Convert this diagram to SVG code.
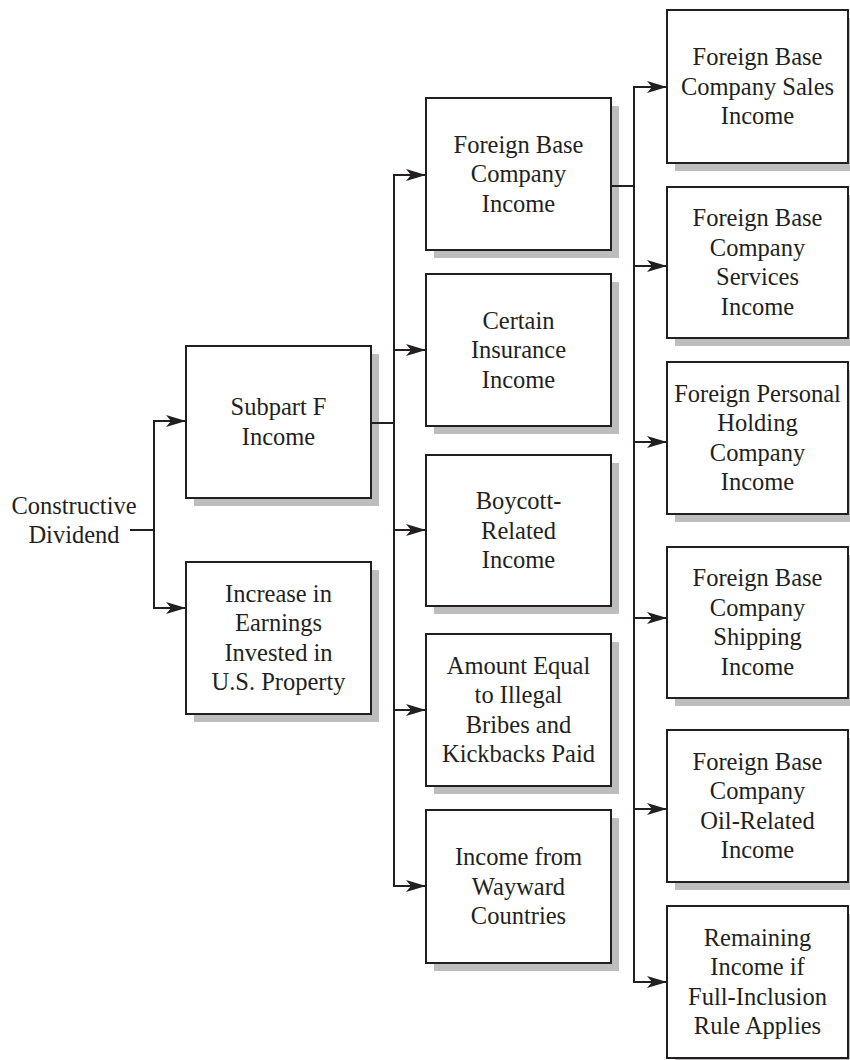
<svg xmlns="http://www.w3.org/2000/svg" width="850" height="1060" viewBox="0 0 850 1060">
  <style>
    .shadow { fill: #bdbdbd; }
    .box { fill: #ffffff; stroke: #231f20; stroke-width: 2; }
    .label { font-family: "Liberation Serif", "Times New Roman", serif; font-size: 24.5px; fill: #231f20; text-anchor: middle; }
    .wire { fill: none; stroke: #231f20; stroke-width: 2; }
    .arrow { fill: none; stroke: #231f20; stroke-width: 2; marker-end: url(#head); }
  </style>
  <defs>
    <marker id="head" markerUnits="userSpaceOnUse" viewBox="0 0 20 12" refX="20" refY="6" markerWidth="20" markerHeight="12" orient="auto">
      <path d="M0,0 L20,6 L0,12 L5,6 Z" fill="#231f20"/>
    </marker>
  </defs>
  <rect width="850" height="1060" fill="#ffffff"/>

  <!-- root label -->
  <g id="constructive-dividend">
    <text class="label" x="74" y="514">Constructive<tspan x="74" dy="29">Dividend</tspan></text>
  </g>

  <!-- first column -->
  <g id="subpart-f">
    <rect class="shadow" x="194" y="354" width="185" height="152"/>
    <rect class="box" x="186" y="346" width="185" height="152"/>
    <text class="label" x="278.5" y="415.25">Subpart F<tspan x="278.5" dy="29.5">Income</tspan></text>
  </g>
  <g id="us-property">
    <rect class="shadow" x="194" y="570" width="185" height="152"/>
    <rect class="box" x="186" y="562" width="185" height="152"/>
    <text class="label" x="278.5" y="601.75">Increase in<tspan x="278.5" dy="29.5">Earnings</tspan><tspan x="278.5" dy="29.5">Invested in</tspan><tspan x="278.5" dy="29.5">U.S. Property</tspan></text>
  </g>

  <!-- second column -->
  <g id="fbc-income">
    <rect class="shadow" x="434" y="106" width="185" height="152"/>
    <rect class="box" x="426" y="98" width="185" height="152"/>
    <text class="label" x="518.5" y="152.5">Foreign Base<tspan x="518.5" dy="29.5">Company</tspan><tspan x="518.5" dy="29.5">Income</tspan></text>
  </g>
  <g id="insurance-income">
    <rect class="shadow" x="434" y="282" width="185" height="152"/>
    <rect class="box" x="426" y="274" width="185" height="152"/>
    <text class="label" x="518.5" y="328.5">Certain<tspan x="518.5" dy="29.5">Insurance</tspan><tspan x="518.5" dy="29.5">Income</tspan></text>
  </g>
  <g id="boycott-income">
    <rect class="shadow" x="434" y="463" width="185" height="151"/>
    <rect class="box" x="426" y="455" width="185" height="151"/>
    <text class="label" x="518.5" y="509">Boycott-<tspan x="518.5" dy="29.5">Related</tspan><tspan x="518.5" dy="29.5">Income</tspan></text>
  </g>
  <g id="bribes">
    <rect class="shadow" x="434" y="642" width="185" height="152"/>
    <rect class="box" x="426" y="634" width="185" height="152"/>
    <text class="label" x="518.5" y="673.75">Amount Equal<tspan x="518.5" dy="29.5">to Illegal</tspan><tspan x="518.5" dy="29.5">Bribes and</tspan><tspan x="518.5" dy="29.5">Kickbacks Paid</tspan></text>
  </g>
  <g id="wayward-countries">
    <rect class="shadow" x="434" y="818" width="185" height="153"/>
    <rect class="box" x="426" y="810" width="185" height="153"/>
    <text class="label" x="518.5" y="865">Income from<tspan x="518.5" dy="29.5">Wayward</tspan><tspan x="518.5" dy="29.5">Countries</tspan></text>
  </g>

  <!-- third column -->
  <g id="sales-income">
    <rect class="shadow" x="675" y="18" width="181" height="153"/>
    <rect class="box" x="667" y="10" width="181" height="153"/>
    <text class="label" x="757.5" y="65">Foreign Base<tspan x="757.5" dy="29.5">Company Sales</tspan><tspan x="757.5" dy="29.5">Income</tspan></text>
  </g>
  <g id="services-income">
    <rect class="shadow" x="675" y="195" width="181" height="151"/>
    <rect class="box" x="667" y="187" width="181" height="151"/>
    <text class="label" x="757.5" y="226.25">Foreign Base<tspan x="757.5" dy="29.5">Company</tspan><tspan x="757.5" dy="29.5">Services</tspan><tspan x="757.5" dy="29.5">Income</tspan></text>
  </g>
  <g id="holding-income">
    <rect class="shadow" x="675" y="370" width="181" height="152"/>
    <rect class="box" x="667" y="362" width="181" height="152"/>
    <text class="label" x="757.5" y="401.75">Foreign Personal<tspan x="757.5" dy="29.5">Holding</tspan><tspan x="757.5" dy="29.5">Company</tspan><tspan x="757.5" dy="29.5">Income</tspan></text>
  </g>
  <g id="shipping-income">
    <rect class="shadow" x="675" y="555" width="181" height="151"/>
    <rect class="box" x="667" y="547" width="181" height="151"/>
    <text class="label" x="757.5" y="586.25">Foreign Base<tspan x="757.5" dy="29.5">Company</tspan><tspan x="757.5" dy="29.5">Shipping</tspan><tspan x="757.5" dy="29.5">Income</tspan></text>
  </g>
  <g id="oil-income">
    <rect class="shadow" x="675" y="738" width="181" height="152"/>
    <rect class="box" x="667" y="730" width="181" height="152"/>
    <text class="label" x="757.5" y="769.75">Foreign Base<tspan x="757.5" dy="29.5">Company</tspan><tspan x="757.5" dy="29.5">Oil-Related</tspan><tspan x="757.5" dy="29.5">Income</tspan></text>
  </g>
  <g id="full-inclusion">
    <rect class="shadow" x="675" y="914" width="181" height="152"/>
    <rect class="box" x="667" y="906" width="181" height="152"/>
    <text class="label" x="757.5" y="945.75">Remaining<tspan x="757.5" dy="29.5">Income if</tspan><tspan x="757.5" dy="29.5">Full-Inclusion</tspan><tspan x="757.5" dy="29.5">Rule Applies</tspan></text>
  </g>

  <!-- connectors -->
  <g id="connectors">
    <!-- from Constructive Dividend -->
    <path class="wire" d="M130,530 H154 M154,420 V609"/>
    <path class="arrow" d="M153,421 H186"/>
    <path class="arrow" d="M153,608 H186"/>
    <!-- from Subpart F Income -->
    <path class="wire" d="M371,423 H394 M394,174 V887"/>
    <path class="arrow" d="M393,175 H426"/>
    <path class="arrow" d="M393,350 H426"/>
    <path class="arrow" d="M393,530 H426"/>
    <path class="arrow" d="M393,710 H426"/>
    <path class="arrow" d="M393,886 H426"/>
    <!-- from Foreign Base Company Income -->
    <path class="wire" d="M611,186 H634 M634,86 V983"/>
    <path class="arrow" d="M633,87 H667"/>
    <path class="arrow" d="M633,266 H667"/>
    <path class="arrow" d="M633,442 H667"/>
    <path class="arrow" d="M633,618 H667"/>
    <path class="arrow" d="M633,809 H667"/>
    <path class="arrow" d="M633,982 H667"/>
  </g>
</svg>
